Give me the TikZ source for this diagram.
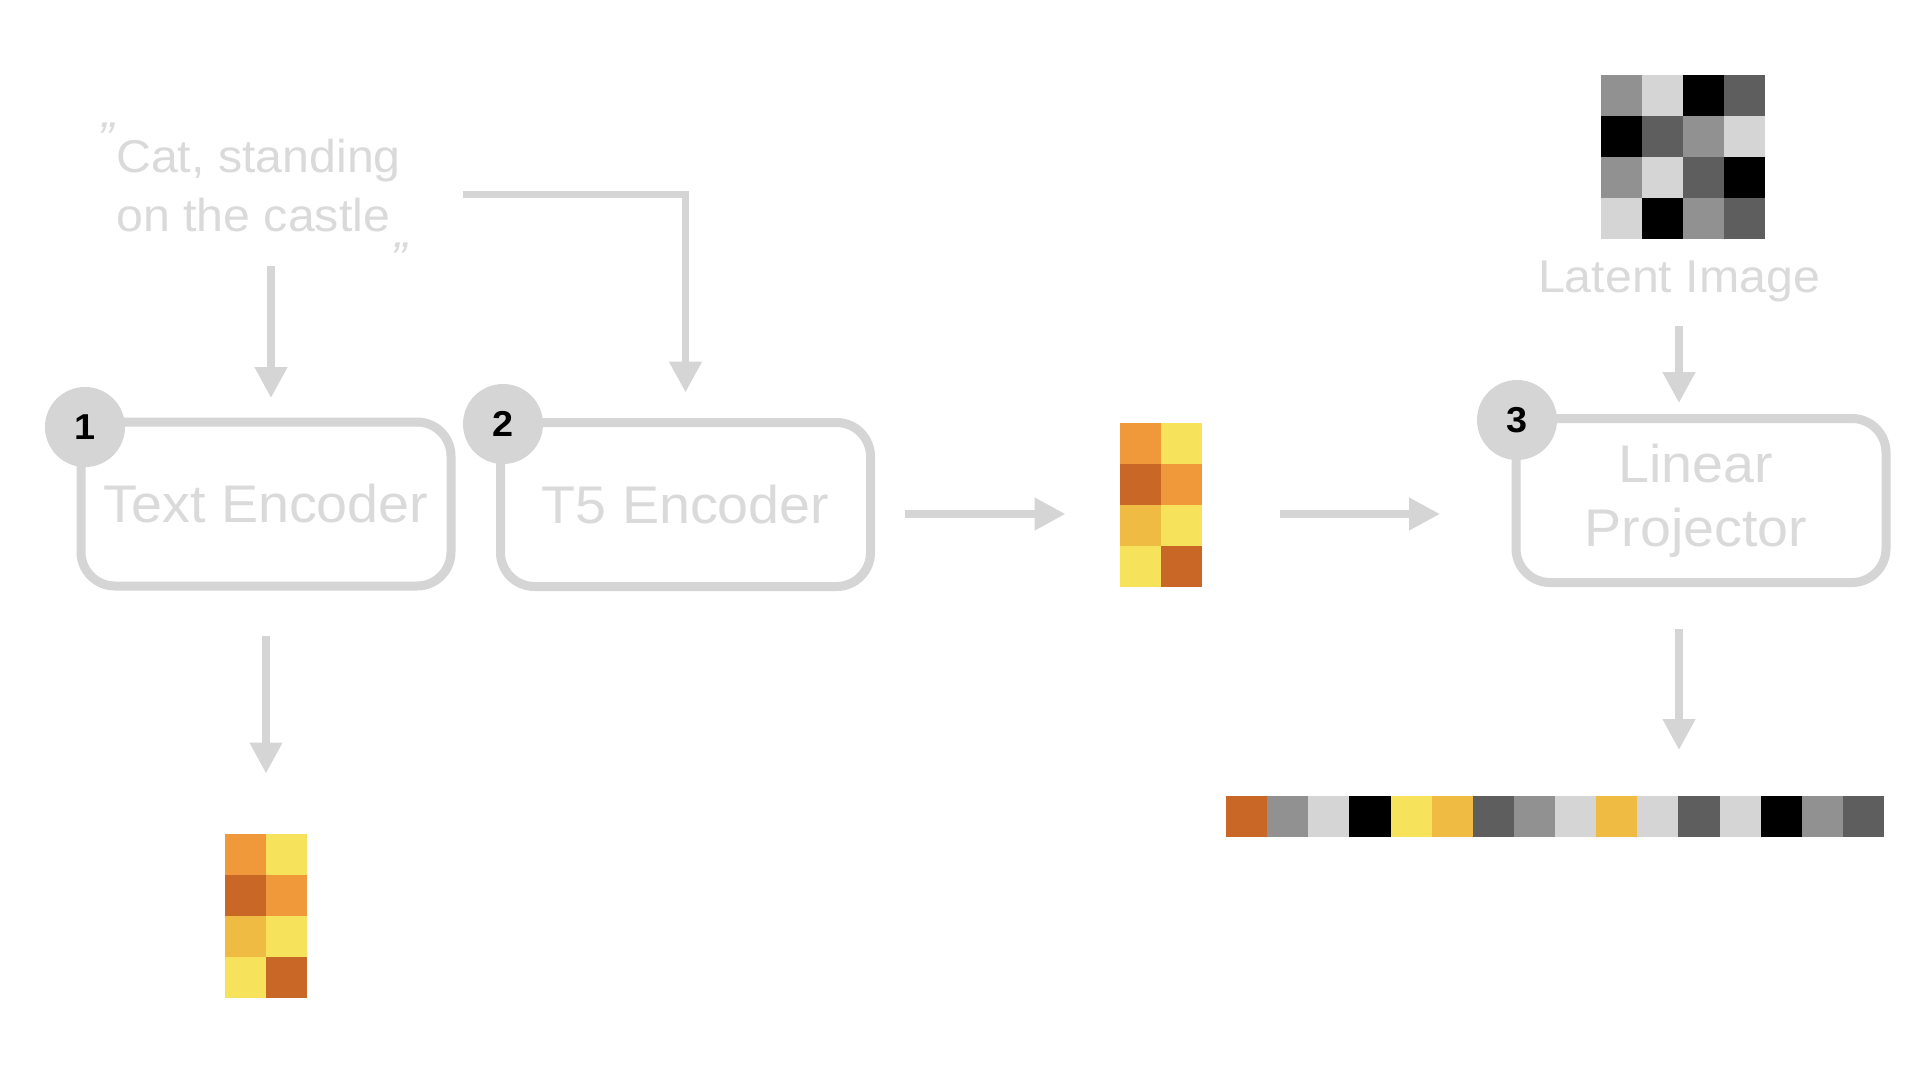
\documentclass[tikz,border=0pt]{standalone}
\usepackage{fontspec}
\setmainfont{Liberation Sans}[FakeStretch=1.05]
\usetikzlibrary{arrows.meta,calc}
\definecolor{ln}{HTML}{D5D5D5}
\definecolor{tx}{HTML}{DADADA}
\definecolor{cor}{HTML}{F0993A}
\definecolor{cye}{HTML}{F6E25B}
\definecolor{cdo}{HTML}{C96727}
\definecolor{cgo}{HTML}{EFBB42}
\definecolor{gmid}{HTML}{919191}
\definecolor{glt}{HTML}{D5D5D5}
\definecolor{gdk}{HTML}{5E5E5E}
\definecolor{gbk}{HTML}{000000}
\begin{document}
\begin{tikzpicture}[x=1pt,y=-1pt,
  box/.style={draw=ln, line width=9pt, rounded corners=34pt, minimum width=370pt, minimum height=164pt, inner sep=0pt, text=tx, font=\fontsize{53}{64}\selectfont, align=center},
  num/.style={circle, fill=ln, minimum size=80pt, inner sep=0pt, font=\fontsize{36}{36}\selectfont\bfseries, text=black},
  arr/.style={draw=ln, line width=7.5pt, -{Triangle[length=31pt,width=31pt]}},
  lbl/.style={text=tx, inner sep=0pt, font=\fontsize{46}{59}\selectfont},
  grid/.style={inner sep=0pt, outer sep=0pt}
]
\fill[white] (0,0) rectangle (1920,1080);
\useasboundingbox (0,0) rectangle (1920,1080);

% quote
\node[lbl, align=left, anchor=north west] (q) at (116,139)
  {\llap{\smash{\raisebox{18pt}{\itshape"}}\hspace{3pt}}Cat, standing\\on the castle\rlap{\smash{\raisebox{-43pt}{\itshape"}}}};

% boxes
\node[box] (te) at (266,504) {Text Encoder};
\node[box] (t5) at (685.5,504.5) {T5 Encoder};
\node[box] (lp) at (1701,500.5) {Linear\hspace*{10pt}\\Projector\hspace*{10pt}};

% number badges
\node[num] (n1) at (85,427) {1};
\node[num] (n2) at (503,424) {2};
\node[num] (n3) at (1517,420) {3};

% grids
\node[grid, minimum width=82pt, minimum height=164pt] (m0) at (265.5,915.5) {};
\node[grid, minimum width=82pt, minimum height=164pt] (m1) at (1160.5,504.5) {};
\node[grid, minimum width=164pt, minimum height=164pt] (li) at (1682.5,157) {};
\node[grid, minimum width=658pt, minimum height=41pt] (st) at (1555,816.5) {};

\foreach \m in {m0,m1}{
  \begin{scope}[shift={(\m.north west)}]
    \foreach \c [count=\i from 0] in {cor,cye,cdo,cor,cgo,cye,cye,cdo}{
      \pgfmathtruncatemacro\col{mod(\i,2)}
      \pgfmathtruncatemacro\row{div(\i,2)}
      \fill[\c] (\col*41,\row*41) rectangle ++(41.3,41.3);
    }
  \end{scope}
}
\begin{scope}[shift={(li.north west)}]
  \foreach \c [count=\i from 0] in {gmid,glt,gbk,gdk, gbk,gdk,gmid,glt, gmid,glt,gdk,gbk, glt,gbk,gmid,gdk}{
    \pgfmathtruncatemacro\col{mod(\i,4)}
    \pgfmathtruncatemacro\row{div(\i,4)}
    \fill[\c] (\col*41,\row*41) rectangle ++(41.3,41.3);
  }
\end{scope}
\begin{scope}[shift={(st.north west)}]
  \foreach \c [count=\i from 0] in {cdo,gmid,glt,gbk,cye,cgo,gdk,gmid,glt,cgo,glt,gdk,glt,gbk,gmid,gdk}{
    \fill[\c] (\i*41.125,0) rectangle ++(41.4,41);
  }
\end{scope}

\node[lbl, anchor=base] (lt) at (1679,292) {Latent Image};

% connectors
\draw[arr] ([xshift=5pt,yshift=151.5pt]te.north) -- ([xshift=5pt,yshift=19.5pt]te.north);
\draw[arr] ([xshift=62pt,yshift=-9pt]q.east) -| ([yshift=25.5pt]t5.north);
\draw[arr, shorten <=29.5pt, shorten >=54pt] ([yshift=-9.5pt]t5.east) -- ([yshift=-9.5pt]t5.east -| m1.west);
\draw[arr, shorten <=78.5pt, shorten >=71.5pt] ([yshift=-9.5pt]m1.east) -- ([yshift=-9.5pt]m1.east -| lp.west);
\draw[arr, shorten <=24pt, shorten >=11pt] (lt.south) -- (lt.south |- lp.north);
\draw[arr, shorten <=42pt, shorten >=46pt] ([xshift=-22pt]lp.south) -- ([xshift=-22pt]lp.south |- st.north);
\draw[arr, shorten <=45.5pt, shorten >=60pt] (te.south) -- (te.south |- m0.north);
\end{tikzpicture}
\end{document}
